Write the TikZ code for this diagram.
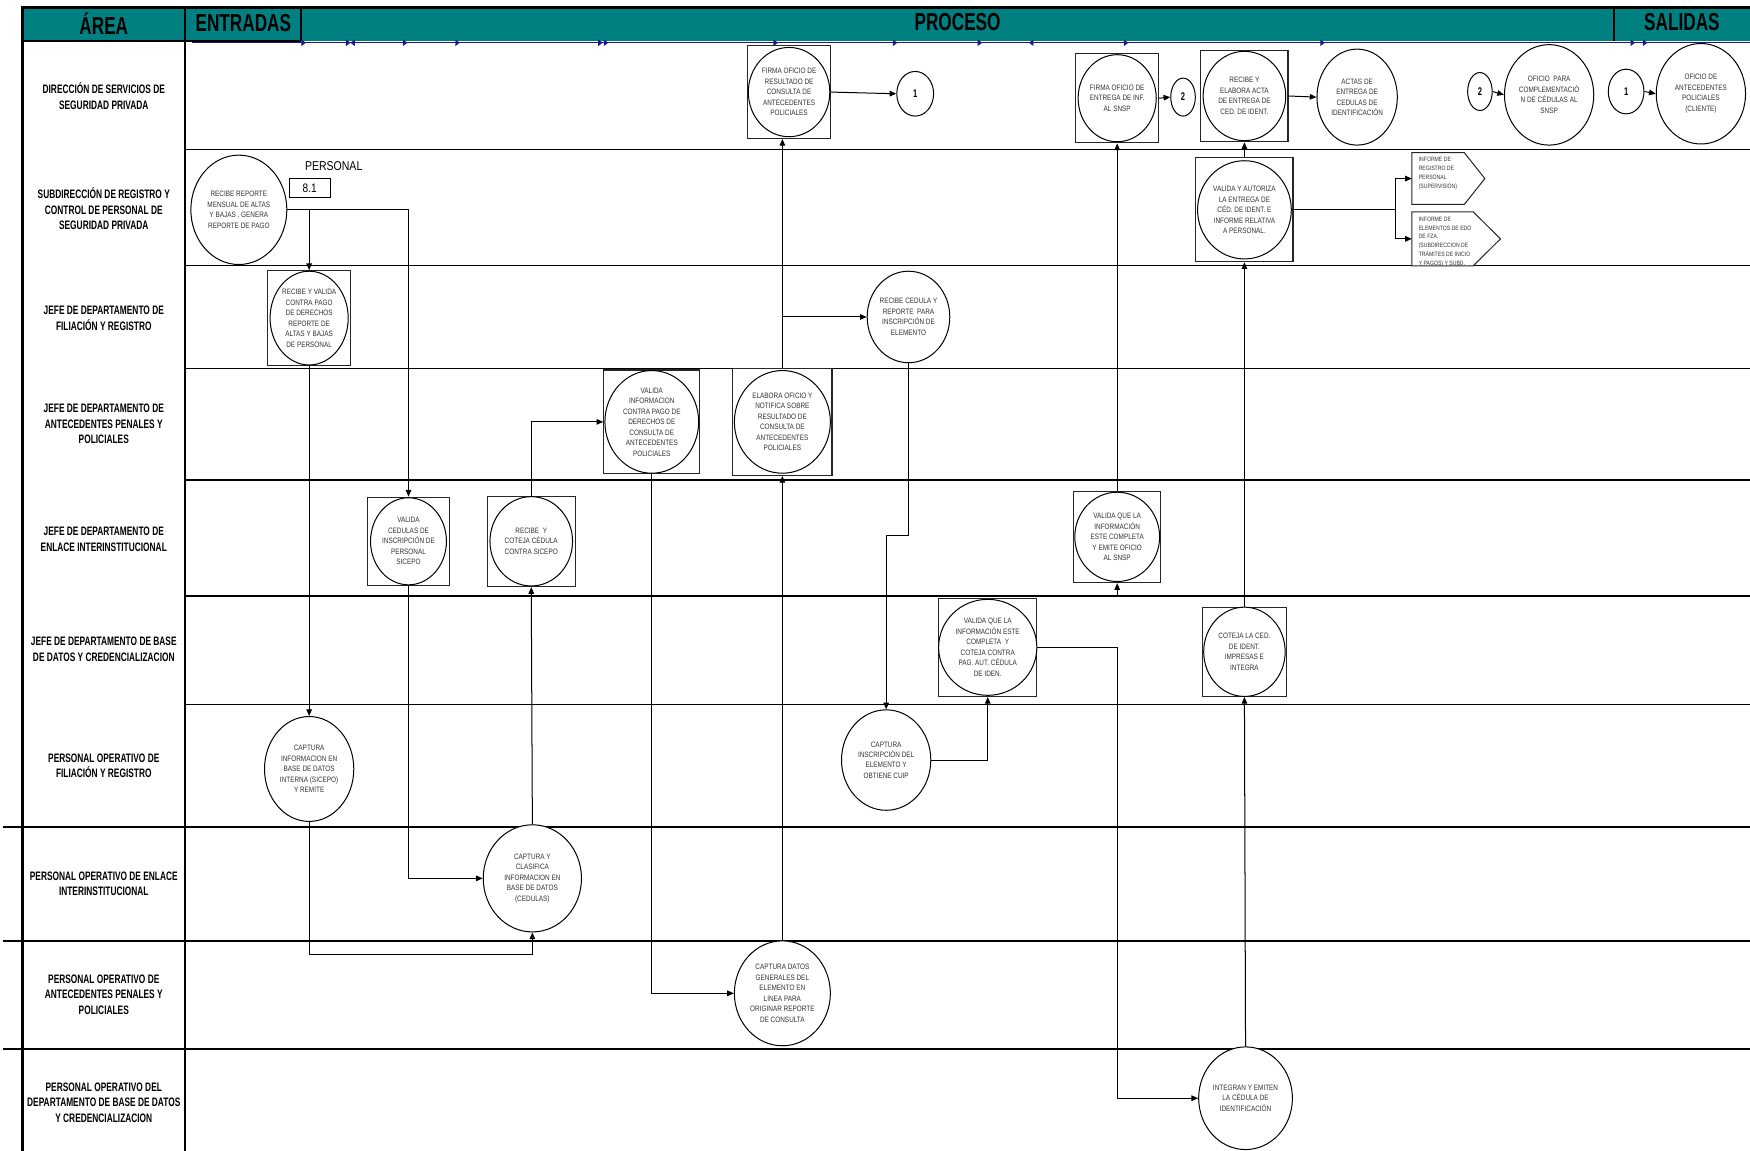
\documentclass[tikz,border=0pt]{standalone}
\usepackage{fontspec}
\setmainfont{Liberation Sans}
\newfontfamily\hdrfont{Liberation Sans}[FakeStretch=0.7]
\newfontfamily\lblfont{Liberation Sans}[FakeStretch=0.68]
\newfontfamily\ndfont{Liberation Sans}[FakeStretch=0.82]
\usetikzlibrary{arrows.meta,shapes.geometric,calc}
\definecolor{hdrteal}{RGB}{0,128,128}
\definecolor{navyline}{RGB}{25,25,135}
\tikzset{
 lanel/.style={line width=1.3pt},
 conn/.style={line width=0.9pt,-{Triangle[length=6pt,width=5pt]}},
 plain/.style={line width=0.9pt},
 pbox/.style={draw=black!85,line width=1pt,inner sep=0pt},
 pell/.style={ellipse,draw=black,line width=0.9pt,inner sep=0pt,fill=white},
 ptxt/.style={align=center,font=\ndfont\fontsize{7}{9.4}\selectfont,text=black!80,inner sep=0pt},
 pentxt/.style={align=left,font=\ndfont\fontsize{5.6}{8}\selectfont,text=black!80,inner sep=0pt,anchor=north west},
 cnum/.style={ellipse,draw,line width=0.9pt,inner sep=0pt,font=\lblfont\bfseries\fontsize{10}{12}\selectfont},
 lanetxt/.style={align=center,text=black,font=\lblfont\bfseries\fontsize{11}{14}\selectfont},
 hdr/.style={text=black,font=\hdrfont\bfseries\fontsize{22}{24}\selectfont},
 pent/.style={draw=black!85,line width=0.9pt,fill=white},
}
\newcommand\procnode[8]{%
  \node[pbox,minimum width=#4,minimum height=#5] (#1) at (#2,#3) {};
  \node[pell,minimum width=#6,minimum height=#7] (#1e) at (#1) {};
  \node[ptxt] at (#1) {#8};}
\newcommand\ellnode[6]{%
  \node[pell,minimum width=#4,minimum height=#5] (#1) at (#2,#3) {};
  \node[ptxt] at (#1) {#6};}
\begin{document}
\begin{tikzpicture}[x=1pt,y=-1pt]
\useasboundingbox (0,0) rectangle (1568,1031);
% header
\fill[hdrteal] (20,7) rectangle (1568,37);
\draw[line width=2.5pt] (20,7) -- (1568,7);
\draw[line width=1.5pt] (20,37) -- (270,37);
\draw[line width=2pt] (270,7) -- (270,37);
\draw[line width=2pt] (1446,7) -- (1446,37);
\draw[line width=1.5pt] (166,7) -- (166,1031);
\draw[line width=3pt] (20,5.5) -- (20,1031);
\node[hdr] (hArea) at (93,21) {ÁREA};
\node[hdr] (hEnt) at (218,21) {ENTRADAS};
\node[hdr] (hPro) at (858,20) {PROCESO};
\node[hdr] (hSal) at (1507,20) {SALIDAS};
\draw[navyline,line width=1.3pt] (172,38.3) -- (1568,38.3);
\foreach \x in {270,310,361,408,536,541,693,800,876,1007,1183,1461,1472}
  \fill[navyline] (\x,35.3) -- (\x+4,38.3) -- (\x,41.3) -- cycle;
\foreach \x in {314,922}
  \fill[navyline] (\x+4,35.3) -- (\x,38.3) -- (\x+4,41.3) -- cycle;
% lanes
\foreach \y in {134,238,330,430,534,631}
  \draw[lanel] (166,\y) -- (1568,\y);
\foreach \y in {741,843,940}
  \draw[lanel] (3,\y) -- (1568,\y);
\node[lanetxt] (l1) at (93,86) {DIRECCIÓN DE SERVICIOS DE\\SEGURIDAD PRIVADA};
\node[lanetxt] (l2) at (93,187) {SUBDIRECCIÓN DE REGISTRO Y\\CONTROL DE PERSONAL DE\\SEGURIDAD PRIVADA};
\node[lanetxt] (l3) at (93,285) {JEFE DE DEPARTAMENTO DE\\FILIACIÓN Y REGISTRO};
\node[lanetxt] (l4) at (93,380) {JEFE DE DEPARTAMENTO DE\\ANTECEDENTES PENALES Y\\POLICIALES};
\node[lanetxt] (l5) at (93,483) {JEFE DE DEPARTAMENTO DE\\ENLACE INTERINSTITUCIONAL};
\node[lanetxt] (l6) at (93,582) {JEFE DE DEPARTAMENTO DE BASE\\DE DATOS Y CREDENCIALIZACION};
\node[lanetxt] (l7) at (93,686) {PERSONAL OPERATIVO DE\\FILIACIÓN Y REGISTRO};
\node[lanetxt] (l8) at (93,792) {PERSONAL OPERATIVO DE ENLACE\\INTERINSTITUCIONAL};
\node[lanetxt] (l9) at (93,891) {PERSONAL OPERATIVO DE\\ANTECEDENTES PENALES Y\\POLICIALES};
\node[lanetxt] (l10) at (93,988) {PERSONAL OPERATIVO DEL\\DEPARTAMENTO DE BASE DE DATOS\\Y CREDENCIALIZACION};
% lane 1
\procnode{A1}{707}{82.5}{74}{83}{73}{80}{FIRMA OFICIO DE\\RESULTADO DE\\CONSULTA DE\\ANTECEDENTES\\POLICIALES}
\node[cnum,minimum width=33,minimum height=40] (C1) at (820,84) {1};
\procnode{B1}{1001}{88}{74}{80}{70}{78}{FIRMA OFICIO DE\\ENTREGA DE INF.\\AL SNSP}
\node[cnum,minimum width=22,minimum height=34] (C2) at (1060,87) {2};
\procnode{B2}{1115}{86}{78}{82}{74}{80}{RECIBE Y\\ELABORA ACTA\\DE ENTREGA DE\\CED. DE IDENT.}
\ellnode{ACT}{1216}{87}{72}{86}{ACTAS DE\\ENTREGA DE\\CEDULAS DE\\IDENTIFICACIÓN}
\node[cnum,minimum width=22,minimum height=34] (C2b) at (1326,82) {2};
\ellnode{OFP}{1388}{85}{80}{90}{OFICIO\ \ PARA\\COMPLEMENTACIÓ\\N DE CÉDULAS AL\\SNSP}
\node[cnum,minimum width=32,minimum height=40] (C1b) at (1457,82) {1};
\ellnode{OFD}{1524}{84}{80}{90}{OFICIO DE\\ANTECEDENTES\\POLICIALES\\(CLIENTE)}
% lane 2
\ellnode{N1}{214}{188}{86}{98}{RECIBE REPORTE\\MENSUAL DE ALTAS\\Y BAJAS , GENERA\\REPORTE DE PAGO}
\node[font=\ndfont\fontsize{11.5}{13}\selectfont,inner sep=0pt] (pers) at (299,149) {PERSONAL};
\node[draw,line width=0.9pt,minimum width=37,minimum height=17,inner sep=0pt,font=\ndfont\fontsize{11}{13}\selectfont] (n81) at (277.5,168.5) {8.1};
\procnode{VYA}{1115}{188}{87}{93}{84}{88}{VALIDA Y AUTORIZA\\LA ENTREGA DE\\CÉD. DE IDENT. E\\INFORME RELATIVA\\A PERSONAL.}
\node[minimum width=65,minimum height=46,inner sep=0pt,anchor=west] (P1) at (1265,160) {};
\draw[pent] (P1.north west) -- ++(47,0) -- (P1.east) -- ($(P1.south west)+(47,0)$) -- (P1.south west) -- cycle;
\node[pentxt] at (1271,141) {INFORME DE\\REGISTRO DE\\PERSONAL\\(SUPERVISIÓN)};
\node[minimum width=79,minimum height=48,inner sep=0pt,anchor=west] (P2) at (1265,214) {};
\draw[pent] (P2.north west) -- ++(55,0) -- (P2.east) -- ($(P2.south west)+(55,0)$) -- (P2.south west) -- cycle;
\begin{scope}
\clip (1260,189) rectangle (1400,239.5);
\node[pentxt] at (1271,194) {INFORME DE\\ELEMENTOS DE EDO\\DE FZA.\\(SUBDIRECCION DE\\TRÁMITES DE INICIO\\Y PAGOS) Y SUBD.};
\end{scope}
% lane 3
\procnode{N2}{277}{285}{74}{85}{70}{84}{RECIBE Y VALIDA\\CONTRA PAGO\\DE DERECHOS\\REPORTE DE\\ALTAS Y BAJAS\\DE PERSONAL}
\ellnode{RC}{814}{284}{74}{82}{RECIBE CEDULA Y\\REPORTE\ \ PARA\\INSCRIPCIÓN DE\\ELEMENTO}
% lane 4
\procnode{VI}{584}{378}{86}{93}{84}{92}{VALIDA\\INFORMACION\\CONTRA PAGO DE\\DERECHOS DE\\CONSULTA DE\\ANTECEDENTES\\POLICIALES}
\procnode{EL}{701}{378}{89}{96}{86}{92}{ELABORA OFICIO Y\\NOTIFICA SOBRE\\RESULTADO DE\\CONSULTA DE\\ANTECEDENTES\\POLICIALES}
% lane 5
\procnode{VC}{366}{485}{74}{79}{68}{78}{VALIDA\\CEDULAS DE\\INSCRIPCIÓN DE\\PERSONAL\\SICEPO}
\procnode{RYC}{476}{485}{79}{81}{74}{80}{RECIBE\ \ Y\\COTEJA CÉDULA\\CONTRA SICEPO}
\procnode{VQE}{1001}{481}{78}{82}{76}{80}{VALIDA QUE LA\\INFORMACIÓN\\ESTE COMPLETA\\Y EMITE OFICIO\\AL SNSP}
% lane 6
\procnode{VQC}{885}{580}{88}{88}{88}{86}{VALIDA QUE LA\\INFORMACIÓN ESTE\\COMPLETA\ \ Y\\COTEJA CONTRA\\PAG. AUT. CÉDULA\\DE IDEN.}
\procnode{CLC}{1115}{584}{75}{80}{73}{80}{COTEJA LA CED.\\DE IDENT.\\IMPRESAS E\\INTEGRA}
% lane 7
\ellnode{CI}{277}{689}{80}{94}{CAPTURA\\INFORMACION EN\\BASE DE DATOS\\INTERNA (SICEPO)\\Y REMITE}
\ellnode{CIN}{794}{681}{80}{90}{CAPTURA\\INSCRIPCIÓN DEL\\ELEMENTO Y\\OBTIENE CUIP}
% lane 8
\ellnode{CYC}{477}{787}{88}{96}{CAPTURA Y\\CLASIFICA\\INFORMACION EN\\BASE DE DATOS\\(CEDULAS)}
% lane 9
\ellnode{CD}{701}{890}{86}{94}{CAPTURA DATOS\\GENERALES DEL\\ELEMENTO EN\\LINEA PARA\\ORIGINAR REPORTE\\DE CONSULTA}
% lane 10
\ellnode{INT}{1116}{984}{84}{92}{INTEGRAN Y EMITEN\\LA CÉDULA DE\\IDENTIFICACIÓN}
% waypoints
\coordinate (w1) at (277,855);
\coordinate (w2) at (814,480);
\coordinate (w3) at (1001,580);
\coordinate (w4) at (1115,534);
\coordinate (sp) at (1250,188);
% connectors
\draw[conn] (A1.east) -- (C1.west);
\draw[conn] (B1.east) -- (C2.west);
\draw[conn] (B2.east) -- (ACT.west);
\draw[conn] (C2b.east) -- (OFP.west);
\draw[conn] (C1b.east) -- (OFD.west);
\draw[conn] (N1.east) -| (VC.north);
\draw[conn] (N1.east -| N2.north) -- (N2.north);
\draw[conn] (N2.south) -- (CI.north);
\draw[conn] (CI.south) -- (w1) -| (CYC.south);
\draw[conn] (VC.south) |- (CYC.west);
\draw[conn] (CYC.north) -- (RYC.south);
\draw[conn] (RYC.north) |- (VI.west);
\draw[conn] (VI.south) |- (CD.west);
\draw[conn] (CD.north) -- (EL.south);
\draw[conn] (EL.north) -- (EL.north |- A1.south);
\draw[conn] (EL.north |- RC.west) -- (RC.west);
\draw[conn] (RC.south) -- (w2) -| (CIN.north);
\draw[conn] (CIN.east) -| (VQC.south);
\draw[conn] (VQC.east) -- (w3) |- (INT.west);
\draw[conn] (INT.north) -- (CLC.south);
\draw[conn] (CLC.north) -- (VYA.south);
\draw[conn] (w4) -| (VQE.south);
\draw[conn] (VQE.north) -- (B1.south);
\draw[conn] (VYA.north) -- (B2.south);
\draw[plain] (VYA.east) -- (sp);
\draw[conn] (sp) |- (P1.west);
\draw[conn] (sp) |- (P2.west);
\end{tikzpicture}
\end{document}
